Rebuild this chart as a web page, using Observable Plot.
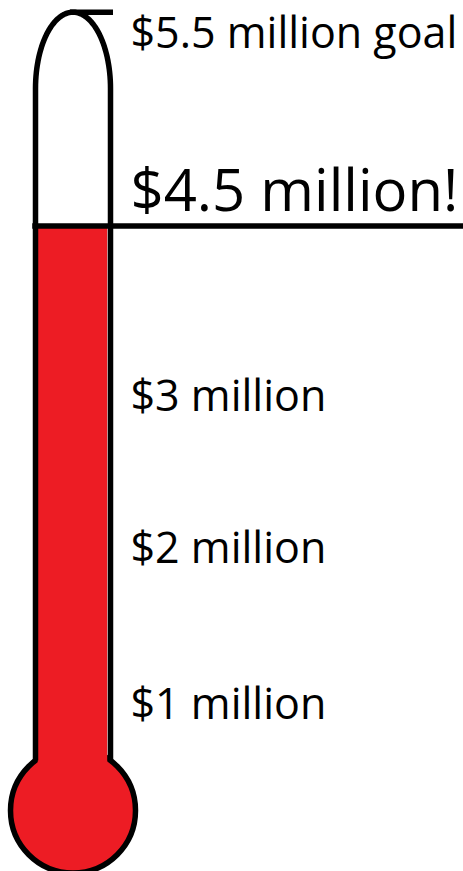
<!DOCTYPE html>
<html><head><meta charset="utf-8">
<script src="https://cdn.jsdelivr.net/npm/d3@7"></script>
<script src="https://cdn.jsdelivr.net/npm/@observablehq/plot@0.6"></script>
<style>html,body{margin:0;padding:0;background:#fff;overflow:hidden}</style>
</head><body><div id="chart"></div>
<script>
// ---- data (millions of dollars) ----
const baseValue = 0;
const milestoneValues = [1, 2, 3];
const milestoneLabels = ["$1 million", "$2 million", "$3 million"];
const raisedValue = 4.5;
const raisedLabel = "$4.5 million!";
const goalValue = 5.5;
const goalLabel = "$5.5 million goal";

// ---- layout ----
const W = 463, H = 871;
const RED = "#ED1C24";
// piecewise (not-to-scale) mapping of dollar values onto the thermometer
const yDomain = [baseValue, ...milestoneValues, raisedValue, goalValue];
const yRange = [810, 705, 549, 397, 225.5, 11.7];
const yFwd = d3.scaleLinear(yDomain, yRange);
const yInv = d3.scaleLinear(yRange.slice().reverse(), yDomain.slice().reverse());

const cx = 72.5, halfW = 37.5, bulbR = 62.5, sw = 5.5;
const bulbCy = yFwd(baseValue);
const apexY = yFwd(goalValue);
const shoulderY = 88;
const junctionY = bulbCy - Math.sqrt(bulbR * bulbR - halfW * halfW);
const outline = [{x: cx - halfW, py: junctionY}];
for (let i = 0; i <= 60; i++) {
  const t = Math.PI * (1 - i / 60);
  outline.push({x: cx + halfW * Math.cos(t), py: shoulderY - (shoulderY - apexY) * Math.sin(t)});
}
outline.push({x: cx + halfW, py: junctionY});
outline.forEach(d => d.y = yInv(d.py));

const labelX = 130;
const font = "Open Sans";

const chart = Plot.plot({
  width: W, height: H, margin: 0,
  style: {background: "white", color: "black"},
  x: {domain: [0, W], range: [0, W], axis: null},
  y: {transform: yFwd, domain: [0, H], range: [0, H], axis: null},
  marks: [
    Plot.dot([baseValue], {x: cx, y: d => d, r: bulbR, fill: RED, stroke: "black", strokeWidth: sw}),
    Plot.rect([raisedValue], {x1: cx - halfW + sw / 2, x2: cx + halfW - sw / 2, y1: baseValue, y2: d => d, fill: RED}),
    Plot.line(outline, {x: "x", y: "y", stroke: "black", strokeWidth: sw, strokeLinecap: "butt", strokeLinejoin: "round"}),
    Plot.ruleY([goalValue], {x1: 70, x2: 113, stroke: "black", strokeWidth: sw}),
    Plot.ruleY([raisedValue], {x1: cx - halfW - sw / 2, x2: W, stroke: "black", strokeWidth: sw}),
    Plot.text(milestoneValues, {x: labelX, y: d => d, text: (d, i) => milestoneLabels[i], textAnchor: "start", fontSize: 43, fontFamily: font, fill: "black"}),
    Plot.text([raisedValue], {x: labelX, y: d => d, text: () => raisedLabel, dy: -34, textAnchor: "start", fontSize: 58, fontFamily: font, fill: "black"}),
    Plot.text([goalValue], {x: labelX, y: d => d, text: () => goalLabel, dy: 22, textAnchor: "start", fontSize: 43, fontFamily: font, fill: "black"})
  ]
});
document.getElementById("chart").appendChild(chart);
</script>
</body></html>
